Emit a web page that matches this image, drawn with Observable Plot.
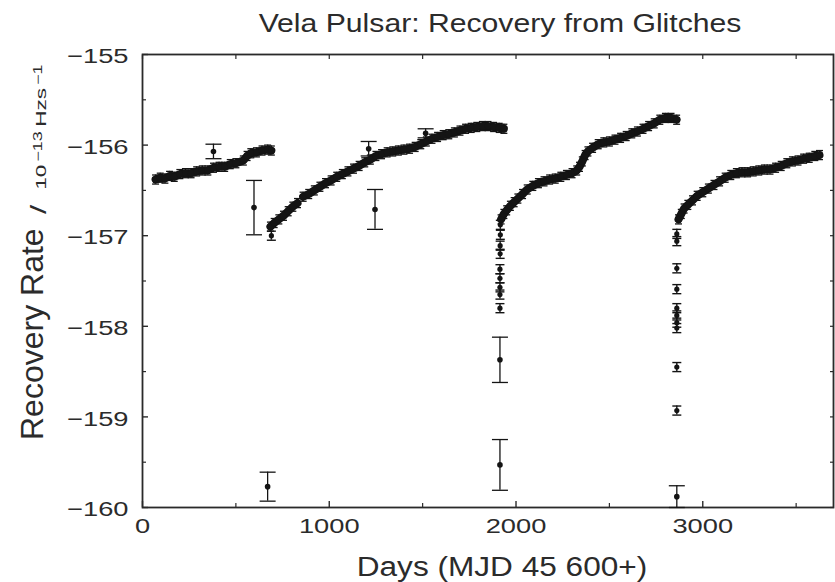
<!DOCTYPE html>
<html>
<head>
<meta charset="utf-8">
<script src="https://cdn.jsdelivr.net/npm/d3@7"></script>
<script src="https://cdn.jsdelivr.net/npm/@observablehq/plot@0.6"></script>
<style>
  html, body { margin: 0; padding: 0; background: #fff; }
  #wrap { position: relative; width: 835px; height: 582px; overflow: hidden;
          font-family: "Liberation Sans", Arial, Helvetica, sans-serif; color: #2b2b2b; }
  .lbl { position: absolute; white-space: nowrap; }
</style>
</head>
<body>
<div id="wrap"></div>
<script>
// ---------- data (days after MJD 45600, recovery rate in 1e-13 Hz/s) ----------
const titleText = "Vela Pulsar: Recovery from Glitches";
const xLabelText = "Days (MJD 45 600+)";
const yLabelText = "Recovery Rate";
const xTicks = [0, 1000, 2000, 3000];
const yTicks = [-160, -159, -158, -157, -156, -155];

// continuous recovery bands (dense timing points)
const seg1Days = [70, 95, 120, 145, 170, 200, 230, 260, 290, 320, 350, 380, 410, 440, 470, 500, 540, 560, 580, 610, 640, 670, 690];
const seg1Vals = [-156.38, -156.36, -156.37, -156.34, -156.35, -156.32, -156.31, -156.31, -156.29, -156.28, -156.28, -156.25, -156.24, -156.24, -156.21, -156.20, -156.17, -156.12, -156.09, -156.08, -156.06, -156.05, -156.06];

const seg2aDays = [685, 705, 730, 755, 780, 805, 830];
const seg2aVals = [-156.90, -156.86, -156.82, -156.78, -156.73, -156.68, -156.64];

const seg2bDays = [860, 890, 920, 950, 980, 1010, 1040, 1070, 1100, 1130, 1160, 1190, 1220, 1250, 1280, 1310, 1340, 1370, 1400, 1430, 1460, 1490, 1520, 1550, 1580, 1610, 1640, 1670, 1700, 1730, 1760, 1790, 1820, 1850, 1880, 1910, 1935];
const seg2bVals = [-156.57, -156.54, -156.50, -156.46, -156.42, -156.39, -156.35, -156.32, -156.29, -156.26, -156.23, -156.19, -156.16, -156.12, -156.10, -156.08, -156.07, -156.06, -156.05, -156.04, -156.02, -155.99, -155.96, -155.93, -155.91, -155.89, -155.88, -155.86, -155.84, -155.82, -155.81, -155.80, -155.79, -155.79, -155.80, -155.81, -155.82];

const seg3Days = [1920, 1935, 1950, 1970, 1990, 2010, 2035, 2060, 2090, 2120, 2150, 2180, 2210, 2240, 2270, 2300, 2325, 2340, 2355, 2370, 2385, 2410, 2440, 2470, 2500, 2530, 2560, 2590, 2620, 2650, 2680, 2710, 2740, 2770, 2800, 2830, 2860];
const seg3Vals = [-156.82, -156.76, -156.72, -156.67, -156.63, -156.59, -156.54, -156.49, -156.45, -156.42, -156.40, -156.38, -156.37, -156.35, -156.33, -156.31, -156.28, -156.24, -156.18, -156.11, -156.07, -156.03, -155.99, -155.97, -155.96, -155.94, -155.92, -155.90, -155.87, -155.85, -155.82, -155.79, -155.76, -155.72, -155.70, -155.70, -155.72];

const seg4Days = [2870, 2885, 2900, 2920, 2945, 2970, 3000, 3030, 3060, 3090, 3120, 3150, 3180, 3210, 3240, 3270, 3300, 3330, 3360, 3390, 3420, 3450, 3480, 3510, 3540, 3570, 3600, 3625];
const seg4Vals = [-156.82, -156.76, -156.70, -156.66, -156.61, -156.56, -156.52, -156.48, -156.44, -156.40, -156.36, -156.33, -156.31, -156.30, -156.30, -156.29, -156.28, -156.27, -156.27, -156.25, -156.23, -156.20, -156.18, -156.17, -156.15, -156.14, -156.12, -156.11];

// stacked points just after the glitches
const col1Days = [690];
const col1Vals = [-157.00];
const col3Days = [1916, 1916, 1915, 1915, 1914, 1914, 1914, 1914, 1914];
const col3Vals = [-156.88, -156.99, -157.11, -157.20, -157.37, -157.47, -157.57, -157.65, -157.80];
const col4Days = [2861, 2861, 2861, 2861, 2861, 2861, 2861, 2861, 2861, 2861];
const col4Vals = [-156.98, -157.06, -157.36, -157.59, -157.80, -157.88, -157.96, -158.02, -158.45, -158.93];

// isolated points with large error bars
const outDays = [380, 597, 670, 1211, 1245, 1516, 1914, 1914, 2861];
const outVals = [-156.07, -156.69, -159.77, -156.04, -156.71, -155.87, -158.37, -159.53, -159.88];
const outErrs = [0.08, 0.30, 0.16, 0.08, 0.22, 0.05, 0.25, 0.28, 0.12];

const bandErr = 0.05;
const colErr = 0.05;

// ---------- tables ----------
function rows(days, vals, seg, err) {
  return days.map((d, i) => ({day: d, val: vals[i], seg, err: Array.isArray(err) ? err[i] : err}));
}
const band = [
  ...rows(seg1Days, seg1Vals, "1", bandErr),
  ...rows(seg2aDays, seg2aVals, "2a", bandErr),
  ...rows(seg2bDays, seg2bVals, "2b", bandErr),
  ...rows(seg3Days, seg3Vals, "3", bandErr),
  ...rows(seg4Days, seg4Vals, "4", bandErr)
];
const cols = [
  ...rows(col1Days, col1Vals, "c1", colErr),
  ...rows(col3Days, col3Vals, "c3", colErr),
  ...rows(col4Days, col4Vals, "c4", colErr)
];
const outs = rows(outDays, outVals, "o", outErrs);

const capSym = {draw(ctx, size) { const w = Math.sqrt(size / Math.PI); ctx.moveTo(-w, 0); ctx.lineTo(w, 0); }};
const ink = "#141414";

function errMarks(data, capR, sw, dotR) {
  return [
    Plot.ruleX(data, {x: "day", y1: d => d.val - d.err, y2: d => d.val + d.err, stroke: ink, strokeWidth: sw}),
    Plot.dot(data, {x: "day", y: d => d.val + d.err, symbol: capSym, r: capR, stroke: ink, fill: "none", strokeWidth: sw}),
    Plot.dot(data, {x: "day", y: d => d.val - d.err, symbol: capSym, r: capR, stroke: ink, fill: "none", strokeWidth: sw}),
    Plot.dot(data, {x: "day", y: "val", r: dotR, fill: ink, stroke: "none"})
  ];
}

const fmtY = d => "\u2212" + Math.abs(d);

const chart = Plot.plot({
  width: 835,
  height: 582,
  marginLeft: 142,
  marginRight: 2,
  marginTop: 54,
  marginBottom: 75,
  x: {domain: [0, 3700]},
  y: {domain: [-160, -155]},
  style: {fontFamily: "'Liberation Sans', Arial, Helvetica, sans-serif", color: "#2b2b2b", background: "#fff", overflow: "visible"},
  marks: [
    // inward tick marks
    Plot.axisY({anchor: "left", label: null, ticks: yTicks, tickSize: -6, tickFormat: () => "", strokeWidth: 1.4}),
    Plot.axisY({anchor: "left", label: null, ticks: d3.range(-159.5, -155, 1), tickSize: -4, tickFormat: () => "", strokeWidth: 1.2}),
    Plot.axisY({anchor: "right", label: null, ticks: d3.range(-160, -154.9, 0.5), tickSize: -4, tickFormat: () => "", strokeWidth: 1.2}),
    Plot.axisX({anchor: "bottom", label: null, ticks: xTicks, tickSize: -6, tickFormat: () => "", strokeWidth: 1.4}),
    Plot.axisX({anchor: "bottom", label: null, ticks: [500, 1500, 2500, 3500], tickSize: -4, tickFormat: () => "", strokeWidth: 1.2}),
    Plot.axisX({anchor: "top", label: null, ticks: d3.range(0, 3701, 500), tickSize: -4, tickFormat: () => "", strokeWidth: 1.2}),
    // tick labels
    Plot.axisY({anchor: "left", label: null, ticks: yTicks, tickSize: 0, tickPadding: 14, tickFormat: fmtY, fontSize: 21, dy: 2}),
    Plot.axisX({anchor: "bottom", label: null, ticks: xTicks, tickSize: 0, tickPadding: 11, tickFormat: d => String(d), fontSize: 21}),
    Plot.frame({stroke: "#2a2a2a", strokeWidth: 1.8}),
    // recovery bands
    Plot.line(band, {x: "day", y: "val", z: "seg", stroke: ink, strokeWidth: 8, strokeLinecap: "round", strokeLinejoin: "round"}),
    ...errMarks(band, 3.5, 1.3, 3.4),
    ...errMarks(cols, 4.5, 1.4, 2.6),
    ...errMarks(outs, 8, 1.3, 2.8)
  ]
});

const wrap = document.getElementById("wrap");
wrap.appendChild(chart);

// horizontally widen tick labels like the scanned figure
chart.querySelectorAll('g[aria-label="y-axis tick label"] text, g[aria-label="x-axis tick label"] text').forEach(t => {
  t.setAttribute("transform", (t.getAttribute("transform") || "") + " scale(1.3,1)");
});

// y axis title (rotated)
const svg = d3.select(chart);
svg.append("text")
  .attr("transform", "translate(43,440) rotate(-90)")
  .attr("text-anchor", "start")
  .attr("font-size", 32)
  .attr("fill", "#2b2b2b")
  .text(yLabelText);
const units = svg.append("text")
  .attr("transform", "translate(46,214) rotate(-90) scale(1.5,1)")
  .attr("text-anchor", "start")
  .attr("font-size", 15)
  .attr("fill", "#2b2b2b");
units.append("tspan").attr("font-size", 22).text("/");
units.append("tspan").attr("dx", 10).text("10");
units.append("tspan").attr("dy", -4).attr("dx", 2).attr("font-size", 12).text("\u221213");
units.append("tspan").attr("dy", 4).attr("dx", 3).text("Hzs");
units.append("tspan").attr("dy", -4).attr("dx", 2).attr("font-size", 12).text("\u22121");

// title and x-axis label
const title = document.createElement("div");
title.className = "lbl";
title.textContent = titleText;
Object.assign(title.style, {left: "500px", top: "10px", fontSize: "26px", lineHeight: "26px", transform: "translateX(-50%) scaleX(1.16)"});
wrap.appendChild(title);

const xl = document.createElement("div");
xl.className = "lbl";
xl.textContent = xLabelText;
Object.assign(xl.style, {left: "502px", top: "554px", fontSize: "27px", lineHeight: "27px", transform: "translateX(-50%) scaleX(1.17)"});
wrap.appendChild(xl);
</script>
</body>
</html>
